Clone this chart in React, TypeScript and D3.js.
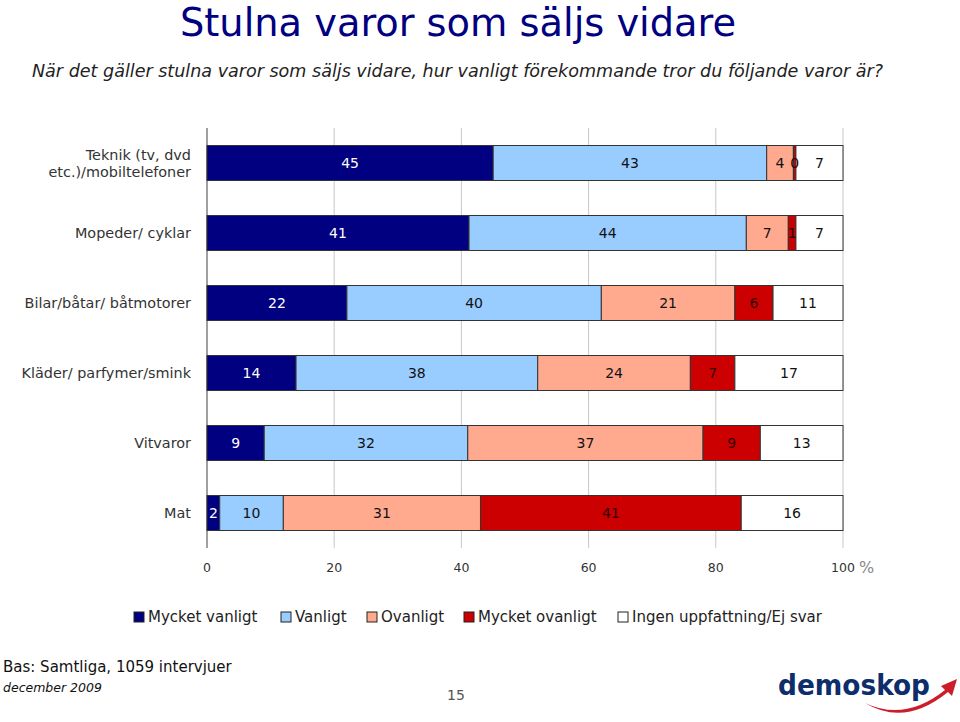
import React from "react";
import * as d3 from "d3";

const categories = [
  "Teknik (tv, dvd etc.)/mobiltelefoner",
  "Mopeder/ cyklar",
  "Bilar/båtar/ båtmotorer",
  "Kläder/ parfymer/smink",
  "Vitvaror",
  "Mat",
];
const categoryLines = [
  ["Teknik (tv, dvd", "etc.)/mobiltelefoner"],
  ["Mopeder/ cyklar"],
  ["Bilar/båtar/ båtmotorer"],
  ["Kläder/ parfymer/smink"],
  ["Vitvaror"],
  ["Mat"],
];
const seriesNames = ["Mycket vanligt", "Vanligt", "Ovanligt", "Mycket ovanligt", "Ingen uppfattning/Ej svar"];
const mycketVanligt = [45, 41.2, 22, 14, 9, 2];
const vanligt = [43, 43.6, 40, 38, 32, 10];
const ovanligt = [4.2, 6.6, 21, 24, 37, 31];
const mycketOvanligt = [0.4, 1.2, 6, 7, 9, 41];
const ingen = [7.4, 7.4, 11, 17, 13, 16];
const xTicks = [0, 20, 40, 60, 80, 100];

const colors = ["#000080", "#99ccff", "#ffa98f", "#cc0000", "#ffffff"];
const textColors = ["#ffffff", "#111111", "#111111", "#330000", "#111111"];

export default function App() {
  const left = 207, right = 843, top = 128, bottom = 548;
  const x = d3.scaleLinear().domain([0, 100]).range([left, right]);
  const y = d3.scaleBand<string>().domain(categories).range([top, bottom]).paddingInner(0.5).paddingOuter(0.25);
  const series = [mycketVanligt, vanligt, ovanligt, mycketOvanligt, ingen];
  const rows = categories.map((c, i) => {
    const o: any = { cat: c };
    series.forEach((s, j) => (o["s" + j] = s[i]));
    return o;
  });
  const stack = d3.stack<any>().keys(series.map((_, j) => "s" + j))(rows);
  const font = "Verdana, 'DejaVu Sans', sans-serif";
  const legendX = [134, 281, 367, 464, 618];

  return (
    <svg width={960} height={722} style={{ position: "absolute", left: 0, top: 0, background: "#fff" }}>
      <text x={458} y={36} textAnchor="middle" fontFamily="'DejaVu Sans Condensed', 'DejaVu Sans', sans-serif" fontSize={39} fill="#000080" textLength={556} lengthAdjust="spacingAndGlyphs">
        Stulna varor som säljs vidare
      </text>
      <text x={32} y={77} fontFamily="'DejaVu Sans Condensed', 'DejaVu Sans', sans-serif" fontStyle="italic" fontSize={17} fill="#222" textLength={851} lengthAdjust="spacingAndGlyphs">
        När det gäller stulna varor som säljs vidare, hur vanligt förekommande tror du följande varor är?
      </text>

      {xTicks.slice(1).map((t) => (
        <line key={t} x1={x(t)} x2={x(t)} y1={top} y2={bottom} stroke="#c8c8c8" strokeWidth={1} />
      ))}
      <line x1={left} x2={left} y1={top} y2={bottom} stroke="#808080" strokeWidth={1.5} />

      {stack.map((layer, j) =>
        layer.map((d, i) => {
          const x0 = x(d[0]);
          const x1 = x(d[1]);
          return (
            <rect key={j + "-" + i} x={x0} y={y(categories[i])} width={Math.max(0, x1 - x0)} height={y.bandwidth()} fill={colors[j]} stroke="#333" strokeWidth={1} />
          );
        })
      )}
      {stack.map((layer, j) =>
        layer.map((d, i) => {
          const x0 = x(d[0]);
          const x1 = x(d[1]);
          const label = String(Math.round(series[j][i] - 0.001));
          return (
            <text key={"t" + j + "-" + i} x={(x0 + x1) / 2} y={(y(categories[i]) as number) + y.bandwidth() / 2 + 5} textAnchor="middle" fontFamily={font} fontSize={14} fill={textColors[j]}>
              {label}
            </text>
          );
        })
      )}

      {categories.map((c, i) => {
        const lines = categoryLines[i];
        const cy = (y(c) as number) + y.bandwidth() / 2;
        return lines.map((l, k) => (
          <text key={c + k} x={191} y={cy + 5 + (k - (lines.length - 1) / 2) * 17} textAnchor="end" fontFamily={font} fontSize={14.4} fill="#333">
            {l}
          </text>
        ));
      })}

      {xTicks.map((t) => (
        <text key={"x" + t} x={x(t)} y={572} textAnchor="middle" fontFamily={font} fontSize={12.5} fill="#333">
          {t}
        </text>
      ))}
      <text x={859} y={573} fontFamily={font} fontSize={16} fill="#888">%</text>

      {seriesNames.map((s, j) => (
        <g key={s}>
          <rect x={legendX[j]} y={612} width={10} height={10} fill={colors[j]} stroke="#222" strokeWidth={1} />
          <text x={legendX[j] + 14} y={622} fontFamily={font} fontSize={15} fill="#222">{s}</text>
        </g>
      ))}

      <text x={3} y={672} fontFamily={font} fontSize={15} fill="#111">Bas: Samtliga, 1059 intervjuer</text>
      <text x={3} y={692} fontFamily={font} fontStyle="italic" fontSize={12.5} fill="#111">december 2009</text>
      <text x={456} y={700} textAnchor="middle" fontFamily={font} fontSize={14} fill="#555">15</text>

      <text x={778} y={695} fontFamily="'DejaVu Sans', sans-serif" fontWeight="bold" fontSize={29} fill="#0d2d6b" textLength={152} lengthAdjust="spacingAndGlyphs">demoskop</text>
      <path d="M865,703 Q905,722 945,690 L941,686 L957,679 L952,696 L948,692 Q905,727 865,703 Z" fill="#cc1d2b" />
    </svg>
  );
}
